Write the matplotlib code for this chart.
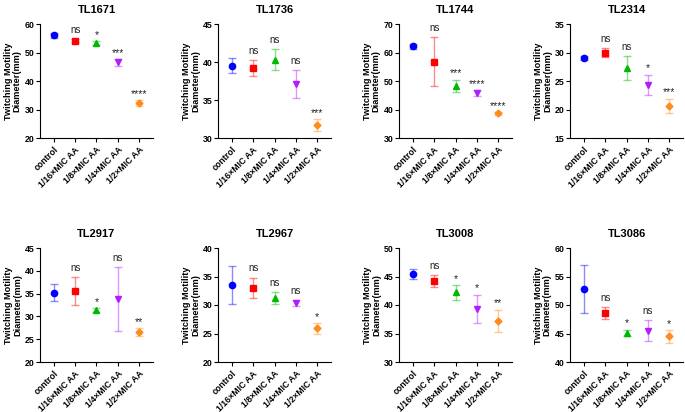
import matplotlib.pyplot as plt

plt.rcParams["font.family"] = ["Liberation Sans", "DejaVu Sans"]
plt.rcParams["font.weight"] = "bold"

groups = ["control", "1/16×MIC AA", "1/8×MIC AA", "1/4×MIC AA", "1/2×MIC AA"]
strains = ["TL1671", "TL1736", "TL1744", "TL2314", "TL2917", "TL2967", "TL3008", "TL3086"]

# 均值
means = [
    [56.0, 54.1, 53.3, 46.5, 32.3],
    [39.5, 39.2, 40.3, 37.1, 31.7],
    [62.2, 56.8, 48.3, 45.8, 38.6],
    [29.0, 30.0, 27.3, 24.3, 20.6],
    [35.2, 35.6, 31.4, 33.8, 26.5],
    [33.5, 33.0, 31.2, 30.4, 25.9],
    [45.4, 44.2, 42.2, 39.3, 37.2],
    [52.8, 48.6, 45.1, 45.5, 44.5],
]
# 标准差
errs = [
    [1.0, 0.5, 0.7, 1.2, 1.0],
    [1.0, 1.1, 1.4, 1.8, 0.8],
    [0.8, 8.7, 2.1, 1.0, 0.4],
    [0.3, 0.8, 2.1, 1.8, 1.3],
    [1.9, 3.0, 0.4, 7.0, 0.9],
    [3.4, 1.8, 1.1, 0.5, 0.9],
    [0.9, 1.1, 1.3, 2.5, 2.0],
    [4.2, 1.1, 0.6, 1.8, 1.1],
]
# 显著性
stars = [
    ["", "ns", "*", "***", "****"],
    ["", "ns", "ns", "ns", "***"],
    ["", "ns", "***", "****", "****"],
    ["", "ns", "ns", "*", "***"],
    ["", "ns", "*", "ns", "**"],
    ["", "ns", "ns", "ns", "*"],
    ["", "ns", "*", "*", "**"],
    ["", "ns", "*", "ns", "*"],
]
ylims = [(20, 60, 10), (30, 45, 5), (30, 70, 10), (15, 35, 5),
         (20, 45, 5), (20, 40, 5), (30, 50, 5), (40, 60, 5)]

colors = ["#0000ff", "#ff0000", "#00b800", "#b21dff", "#ff8c1a"]
markers = ["o", "s", "^", "v", "D"]

fig = plt.figure(figsize=(6.85, 4.12), dpi=100)
lefts = [40, 218, 399, 570]
W, H = 685, 412
for k, name in enumerate(strains):
    row, col = divmod(k, 4)
    top = 24 if row == 0 else 248
    ax = fig.add_axes([lefts[col] / W, 1 - (top + 114) / H, 113 / W, 114 / H])
    for i in range(5):
        ax.errorbar(i, means[k][i], yerr=errs[k][i], fmt="none", ecolor=colors[i],
                    alpha=0.45, elinewidth=1.0, capsize=3, capthick=1.0)
        ax.plot(i, means[k][i], marker=markers[i], color=colors[i],
                markersize=4.5 if markers[i] != "D" else 3.5, linestyle="none")
        if stars[k][i]:
            ns = stars[k][i] == "ns"
            ax.annotate(stars[k][i], (i, means[k][i] + errs[k][i]), xytext=(0, 3 if ns else 1),
                        textcoords="offset points", ha="center", va="bottom",
                        fontsize=7 if ns else 7.5, fontweight="normal",
                        color="#222222")
    lo, hi, step = ylims[k]
    ax.set_ylim(lo, hi)
    ax.set_yticks(range(lo, hi + 1, step))
    ax.set_xlim(-0.65, 4.65)
    ax.set_xticks(range(5))
    ax.set_xticklabels(groups, rotation=45, ha="right", rotation_mode="anchor", fontsize=6.3)
    ax.tick_params(axis="y", labelsize=6.3, length=3, width=0.8, pad=1)
    ax.tick_params(axis="x", length=3, width=0.8, pad=2)
    for s in ["top", "right"]:
        ax.spines[s].set_visible(False)
    for s in ["left", "bottom"]:
        ax.spines[s].set_linewidth(0.8)
    ax.set_title(name, fontsize=8, fontweight="bold", pad=8)
    ax.set_ylabel("Twitching Motility\nDiameter(mm)", fontsize=6.6, fontweight="bold",
                  labelpad=2, linespacing=1.0)

plt.savefig("out.png", dpi=100)
